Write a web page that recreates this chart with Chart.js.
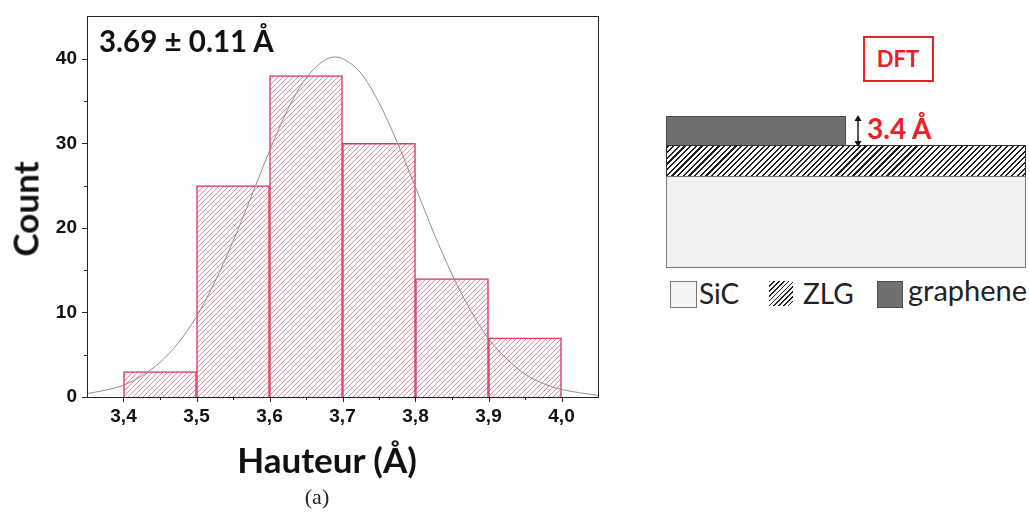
<!DOCTYPE html>
<html>
<head>
<meta charset="utf-8">
<script src="https://cdn.jsdelivr.net/npm/chart.js@4.4.1/dist/chart.umd.min.js"></script>
<style>
  html,body{margin:0;padding:0;background:#fff;}
  #wrap{position:relative;width:1029px;height:512px;overflow:hidden;font-family:Lato,"Open Sans",sans-serif;}
  #cv{position:absolute;left:0;top:0;}
  .t{position:absolute;white-space:nowrap;line-height:1;}
</style>
</head>
<body>
<div id="wrap">
  <canvas id="cv" width="610" height="512"></canvas>
  <div class="t" id="ann" style="left:99px;top:26px;font-size:29.5px;font-weight:700;color:#111;">3.69 ± 0.11 Å</div>
  <div class="t" id="ylab" style="left:25px;top:209px;font-size:35px;font-weight:700;color:#111;transform:translate(-50%,-50%) rotate(-90deg);">Count</div>
  <div class="t" id="xlab" style="left:327px;top:459px;font-size:35px;font-weight:700;color:#111;transform:translate(-50%,-50%);">Hauteur (Å)</div>
  <div class="t" style="left:317px;top:497px;font-size:22px;font-family:'Liberation Serif',serif;color:#222;transform:translate(-50%,-50%);">(a)</div>

  <!-- right schematic -->
  <div style="position:absolute;left:863px;top:36px;width:67px;height:42px;border:2px solid #e8202a;box-sizing:content-box;"></div>
  <div class="t" style="left:898px;top:59px;font-size:22px;font-weight:700;color:#e8202a;transform:translate(-50%,-50%);">DFT</div>
  <div style="position:absolute;left:666px;top:116px;width:178px;height:28px;background:#707070;border:1px solid #4a4a4a;"></div>
  <div style="position:absolute;left:666px;top:145px;width:358px;height:30px;border:1px solid #333;background:repeating-linear-gradient(135deg,#1e1e1e 0 1.5px,#fff 1.5px 4px);"></div>
  <div style="position:absolute;left:666px;top:176px;width:358px;height:90px;background:#f1f1f1;border:1px solid #777;"></div>
  <svg style="position:absolute;left:850px;top:112px;" width="16" height="38" viewBox="0 0 16 38">
    <line x1="8" y1="6" x2="8" y2="32" stroke="#111" stroke-width="1.4"/>
    <polygon points="8,3 4.5,9 11.5,9" fill="#111"/>
    <polygon points="8,35 4.5,29 11.5,29" fill="#111"/>
  </svg>
  <div class="t" style="left:867px;top:114px;font-size:28px;font-weight:700;color:#e8202a;">3.4 Å</div>
  <!-- legend -->
  <div style="position:absolute;left:670px;top:281px;width:25px;height:25px;background:#f3f3f3;border:1px solid #777;"></div>
  <div class="t" style="left:699px;top:279px;font-size:28px;color:#222;">SiC</div>
  <div style="position:absolute;left:769px;top:281px;width:24px;height:25px;background:repeating-linear-gradient(135deg,#222 0 1.2px,#fff 1.2px 3.4px);"></div>
  <div class="t" style="left:803px;top:279px;font-size:28px;color:#222;">ZLG</div>
  <div style="position:absolute;left:877px;top:281px;width:24px;height:25px;background:#707070;border:1px solid #4a4a4a;"></div>
  <div class="t" style="left:908px;top:275px;font-size:29px;color:#222;">graphene</div>
</div>
<script>
// ---- data ----
const binCenters = [3.45, 3.55, 3.65, 3.75, 3.85, 3.95];
const counts     = [3, 25, 38, 30, 14, 7];
const fitX = [3.35, 3.375, 3.40, 3.425, 3.45, 3.475, 3.50, 3.525, 3.55, 3.575, 3.60, 3.625, 3.65, 3.675, 3.69, 3.70, 3.725, 3.75, 3.775, 3.80, 3.825, 3.85, 3.875, 3.90, 3.925, 3.95, 3.975, 4.00, 4.025, 4.05];
const fitY = [0.4, 0.8, 1.4, 2.5, 4.1, 6.4, 9.5, 13.6, 18.4, 23.7, 29.1, 34.0, 37.7, 39.8, 40.2, 40.0, 38.3, 34.8, 30.1, 24.8, 19.4, 14.5, 10.3, 6.9, 4.5, 2.7, 1.6, 0.9, 0.5, 0.2];
const xTickValues = [3.4, 3.5, 3.6, 3.7, 3.8, 3.9, 4.0];
const yTickValues = [0, 10, 20, 30, 40];

// hatch pattern for bars
function hatch(){
  const s = 5, c = document.createElement('canvas');
  c.width = s; c.height = s;
  const g = c.getContext('2d');
  g.fillStyle = '#fefafb'; g.fillRect(0,0,s,s);
  g.strokeStyle = 'rgba(175,85,105,0.6)'; g.lineWidth = 1;
  g.beginPath();
  g.moveTo(-1, s+1); g.lineTo(s+1, -1);
  g.moveTo(-1, 1); g.lineTo(1, -1);
  g.moveTo(s-1, s+1); g.lineTo(s+1, s-1);
  g.stroke();
  return g.createPattern(c, 'repeat');
}
const ctx = document.getElementById('cv').getContext('2d');

const framePlugin = {
  id: 'frame',
  afterDatasetsDraw(chart){
    const {ctx, chartArea: a, scales: {x, y}} = chart;
    ctx.save();
    ctx.strokeStyle = '#222'; ctx.lineWidth = 1;
    ctx.strokeRect(Math.round(a.left)+0.5, Math.round(a.top)+0.5, Math.round(a.right-a.left), Math.round(a.bottom-a.top));
    ctx.beginPath();
    for (let i = 0; i < xTickValues.length; i++) {
      const px = Math.round(x.getPixelForValue(xTickValues[i])) + 0.5;
      ctx.moveTo(px, a.bottom); ctx.lineTo(px, a.bottom + 5);
      if (i < xTickValues.length - 1) {
        const m = Math.round(x.getPixelForValue((xTickValues[i] + xTickValues[i+1]) / 2)) + 0.5;
        ctx.moveTo(m, a.bottom); ctx.lineTo(m, a.bottom + 3);
      }
    }
    for (let i = 0; i < yTickValues.length; i++) {
      const py = Math.round(y.getPixelForValue(yTickValues[i])) + 0.5;
      ctx.moveTo(a.left, py); ctx.lineTo(a.left - 5, py);
      if (i < yTickValues.length - 1) {
        const m = Math.round(y.getPixelForValue((yTickValues[i] + yTickValues[i+1]) / 2)) + 0.5;
        ctx.moveTo(a.left, m); ctx.lineTo(a.left - 3, m);
      }
    }
    ctx.stroke();
    ctx.restore();
  }
};

new Chart(ctx, {
  type: 'bar',
  data: {
    datasets: [
      {
        type: 'line',
        data: fitX.map((v, i) => ({x: v, y: fitY[i]})),
        borderColor: '#a0868a', borderWidth: 1, pointRadius: 0,
        cubicInterpolationMode: 'monotone', fill: false, order: 0
      },
      {
        type: 'bar',
        data: binCenters.map((v, i) => ({x: v, y: counts[i]})),
        backgroundColor: hatch(), borderColor: '#d83a62', borderWidth: 1.5,
        barPercentage: 1, categoryPercentage: 1, borderSkipped: 'bottom', order: 1
      }
    ]
  },
  options: {
    responsive: false, animation: false,
    layout: {padding: {top: 16, right: 12, left: 0, bottom: 0}},
    plugins: {legend: {display: false}, tooltip: {enabled: false}},
    scales: {
      x: {
        type: 'linear', min: 3.35, max: 4.05, offset: false,
        grid: {display: false, offset: false, tickLength: 5}, border: {display: false},
        afterFit: s => { s.height = 115; },
        afterBuildTicks: s => { s.ticks = xTickValues.map(v => ({value: v})); },
        ticks: {
          padding: 3, color: '#111',
          font: {family: '"Liberation Sans", Arial, sans-serif', size: 19, weight: 'bold'},
          callback: v => v.toFixed(1).replace('.', ',')
        }
      },
      y: {
        min: 0, max: 45,
        grid: {display: false, tickLength: 5}, border: {display: false},
        afterFit: s => { s.width = 87; },
        afterBuildTicks: s => { s.ticks = yTickValues.map(v => ({value: v})); },
        ticks: {
          padding: 5, color: '#111',
          font: {family: '"Liberation Sans", Arial, sans-serif', size: 19, weight: 'bold'},
          callback: v => String(v)
        }
      }
    }
  },
  plugins: [framePlugin]
});
</script>
</body>
</html>
